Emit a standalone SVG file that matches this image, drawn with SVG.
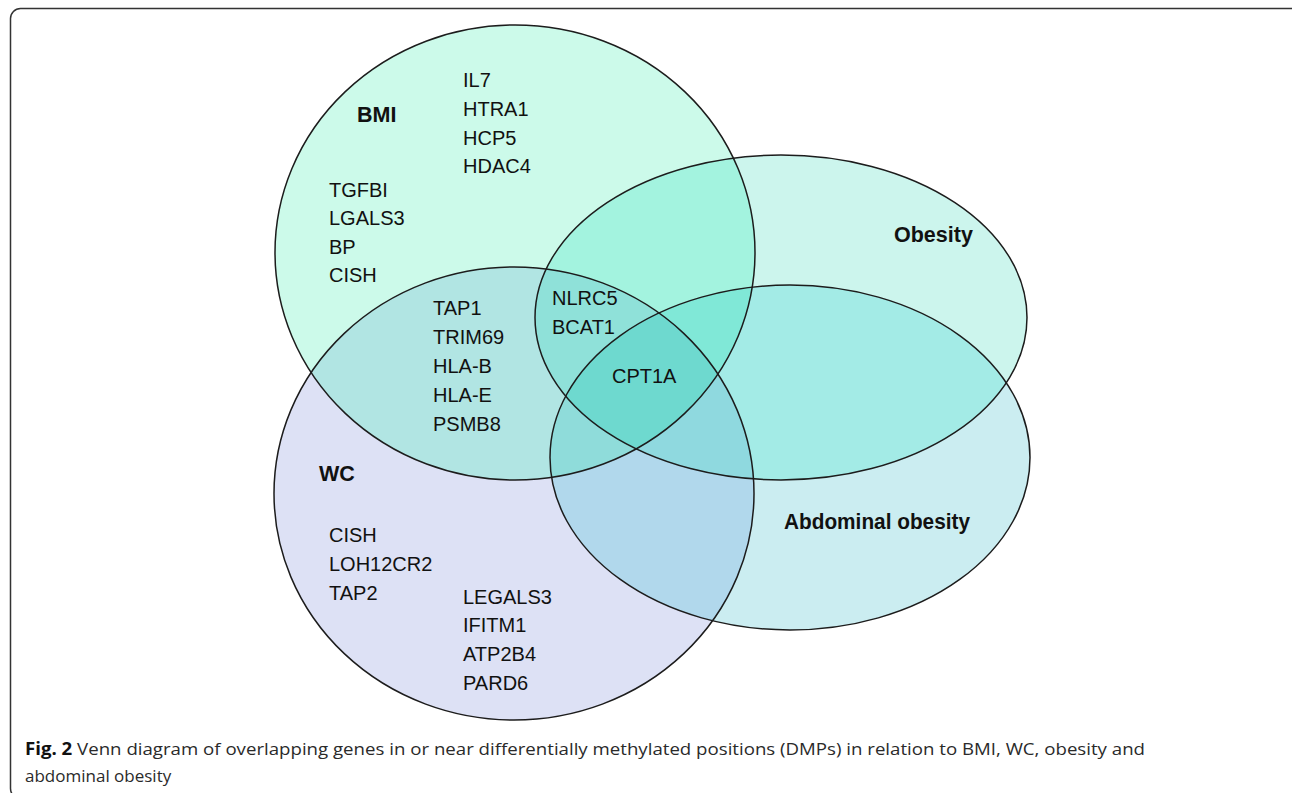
<svg xmlns="http://www.w3.org/2000/svg" xmlns:xlink="http://www.w3.org/1999/xlink" width="1292" height="793" viewBox="0 0 1292 793">
<style>
.t{font-family:"Liberation Sans",Arial,sans-serif;font-size:20px;fill:#111}
.b{font-weight:bold;font-size:21.5px}
.cap{font-family:"Open Sans","Liberation Sans",Arial,sans-serif;font-size:17px;fill:#2a2a2a}
.outline{fill:none;stroke:#1c1c1c;stroke-width:1.5}
</style>
<defs>
<ellipse id="eBMI" cx="515" cy="252.5" rx="240" ry="227.5"/>
<ellipse id="eWC" cx="514" cy="493.5" rx="240" ry="226.5"/>
<ellipse id="eOB" cx="781" cy="317.5" rx="246" ry="162.5"/>
<ellipse id="eAB" cx="790" cy="457.5" rx="240" ry="172.5"/>
<clipPath id="cBMI"><use xlink:href="#eBMI"/></clipPath>
<clipPath id="cWC"><use xlink:href="#eWC"/></clipPath>
<clipPath id="cOB"><use xlink:href="#eOB"/></clipPath>
<clipPath id="cAB"><use xlink:href="#eAB"/></clipPath>
</defs>
<rect x="10.5" y="8.5" width="1290" height="790" rx="10" fill="#fff" stroke="#333" stroke-width="1.5"/>
<g id="regions">
<use xlink:href="#eBMI" fill="#CCFAEA"/>
<use xlink:href="#eOB" fill="#CCF5ED"/>
<use xlink:href="#eAB" fill="#CBEDF1"/>
<use xlink:href="#eWC" fill="#DDE1F5"/>
<g clip-path="url(#cBMI)"><use xlink:href="#eOB" fill="#A3F3DF"/><use xlink:href="#eWC" fill="#B1E5E3"/><use xlink:href="#eAB" fill="#A0EADF"/></g>
<g clip-path="url(#cOB)"><use xlink:href="#eAB" fill="#A3EBE6"/><use xlink:href="#eWC" fill="#A8E0E5"/></g>
<g clip-path="url(#cWC)"><use xlink:href="#eAB" fill="#B1D8EC"/></g>
<g clip-path="url(#cBMI)"><g clip-path="url(#cWC)"><use xlink:href="#eOB" fill="#8FE1D9"/><use xlink:href="#eAB" fill="#8FDCDA"/></g></g>
<g clip-path="url(#cBMI)"><g clip-path="url(#cOB)"><use xlink:href="#eAB" fill="#80E8D7"/></g></g>
<g clip-path="url(#cWC)"><g clip-path="url(#cOB)"><use xlink:href="#eAB" fill="#8FD9DF"/></g></g>
<g clip-path="url(#cBMI)"><g clip-path="url(#cWC)"><g clip-path="url(#cOB)"><use xlink:href="#eAB" fill="#6ED9CF"/></g></g></g>
</g>
<g id="set-bmi">
<use xlink:href="#eBMI" class="outline"/>
<text class="t b" x="357" y="122">BMI</text>
<text class="t" x="463" y="87">IL7</text>
<text class="t" x="463" y="116">HTRA1</text>
<text class="t" x="463" y="144.5">HCP5</text>
<text class="t" x="463" y="173">HDAC4</text>
<text class="t" x="329" y="197">TGFBI</text>
<text class="t" x="329" y="225">LGALS3</text>
<text class="t" x="329" y="253.5">BP</text>
<text class="t" x="329" y="282">CISH</text>
</g>
<g id="set-obesity">
<use xlink:href="#eOB" class="outline"/>
<text class="t b" x="894" y="242">Obesity</text>
</g>
<g id="set-abdominal">
<use xlink:href="#eAB" class="outline"/>
<text class="t b" x="784" y="529" textLength="186" lengthAdjust="spacingAndGlyphs">Abdominal obesity</text>
</g>
<g id="set-wc">
<use xlink:href="#eWC" class="outline"/>
<text class="t b" x="319" y="481">WC</text>
<text class="t" x="329" y="542">CISH</text>
<text class="t" x="329" y="571">LOH12CR2</text>
<text class="t" x="329" y="600">TAP2</text>
<text class="t" x="463" y="603.5">LEGALS3</text>
<text class="t" x="463" y="632">IFITM1</text>
<text class="t" x="463" y="661">ATP2B4</text>
<text class="t" x="463" y="689.5">PARD6</text>
</g>
<g id="overlap-bmi-wc">
<text class="t" x="433" y="315">TAP1</text>
<text class="t" x="433" y="344">TRIM69</text>
<text class="t" x="433" y="373">HLA-B</text>
<text class="t" x="433" y="402">HLA-E</text>
<text class="t" x="433" y="431">PSMB8</text>
</g>
<g id="overlap-bmi-wc-obesity">
<text class="t" x="552" y="304.5">NLRC5</text>
<text class="t" x="552" y="333.5">BCAT1</text>
</g>
<g id="overlap-all">
<text class="t" x="612" y="383">CPT1A</text>
</g>
<g id="connectors"></g>
<g id="caption">
<text class="cap" x="25" y="755" textLength="1120" lengthAdjust="spacingAndGlyphs"><tspan font-weight="bold" fill="#111">Fig. 2</tspan> Venn diagram of overlapping genes in or near differentially methylated positions (DMPs) in relation to BMI, WC, obesity and</text>
<text class="cap" x="25" y="782">abdominal obesity</text>
</g>
</svg>
